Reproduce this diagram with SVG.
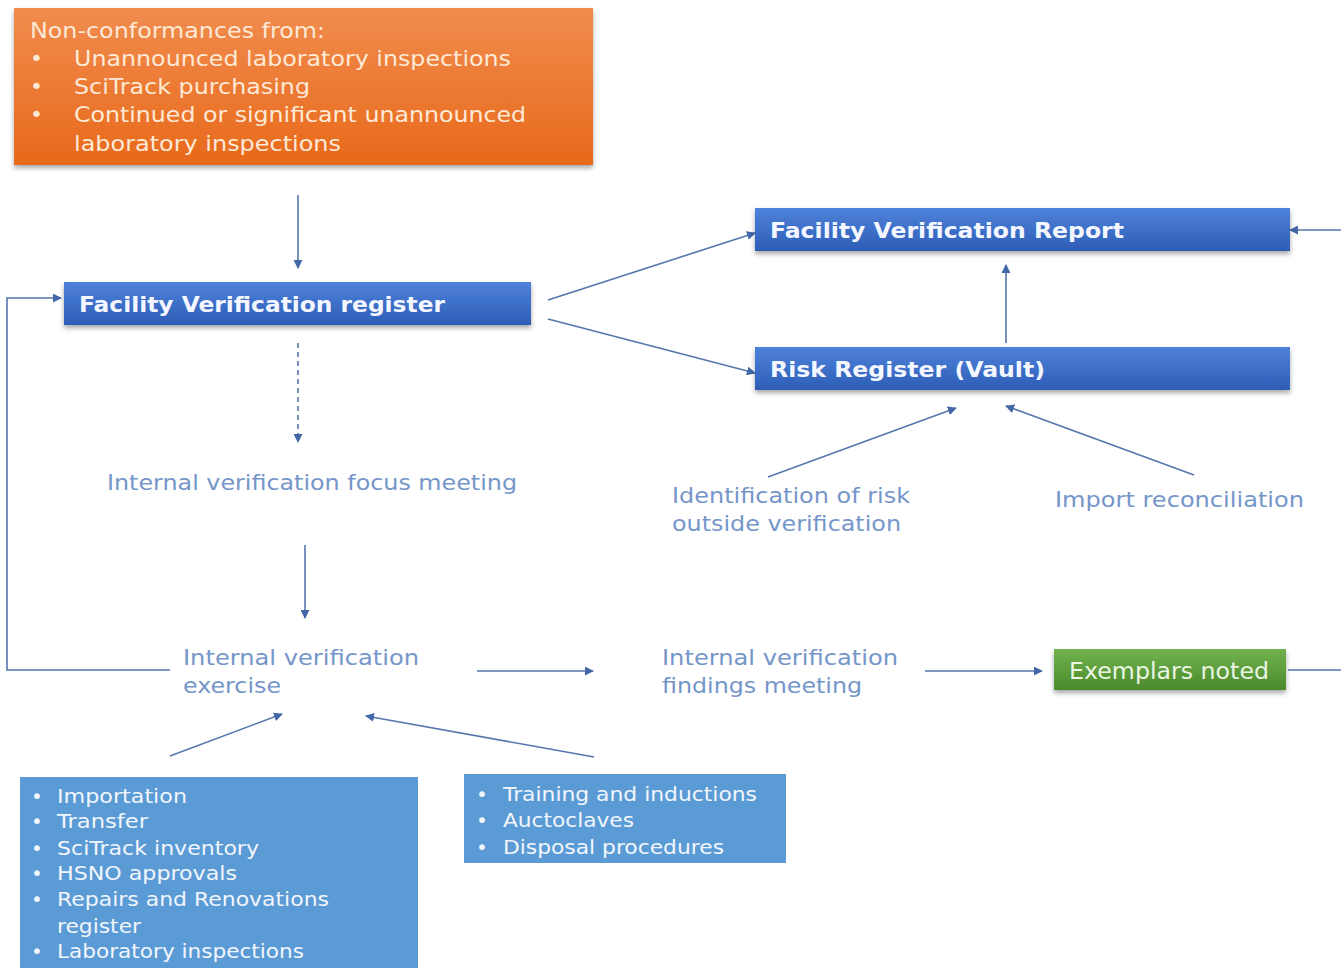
<svg xmlns="http://www.w3.org/2000/svg" width="1341" height="968" viewBox="0 0 1341 968">
<defs>
<linearGradient id="gOrange" x1="0" y1="0" x2="0" y2="1"><stop offset="0" stop-color="#F08C4E"/><stop offset="1" stop-color="#E8691B"/></linearGradient>
<linearGradient id="gBlue" x1="0" y1="0" x2="0" y2="1"><stop offset="0" stop-color="#4F82DA"/><stop offset="1" stop-color="#2D5DB6"/></linearGradient>
<linearGradient id="gGreen" x1="0" y1="0" x2="0" y2="1"><stop offset="0" stop-color="#72B24E"/><stop offset="1" stop-color="#4A8A2C"/></linearGradient>
<filter id="shadow" x="-5%" y="-20%" width="110%" height="150%"><feDropShadow dx="0" dy="3" stdDeviation="2.5" flood-color="#000" flood-opacity="0.35"/></filter>
<marker id="arr" viewBox="0 0 10 10" refX="9" refY="5" markerWidth="9" markerHeight="9" markerUnits="userSpaceOnUse" orient="auto"><path d="M0,0 L10,5 L0,10 z" fill="#4267A8"/></marker>
<style>
.conn{fill:none;stroke:#5676AC;stroke-width:1.6;marker-end:url(#arr)}
.dash{stroke-dasharray:5,4}
.hdr{font-family:"DejaVu Sans",Verdana,sans-serif;font-weight:bold;font-size:22px;fill:#F4F7FF}
.lbl{font-family:"DejaVu Sans",Verdana,sans-serif;font-size:22px;fill:#7596C9}
.org{font-family:"DejaVu Sans",Verdana,sans-serif;font-size:22px;fill:#FDE9D6}
.lst{font-family:"DejaVu Sans",Verdana,sans-serif;font-size:20px;fill:#F2F6FC}
</style>
</defs>
<rect width="1341" height="968" fill="#FFFFFF"/>
<g id="connectors">
<path class="conn" d="M298,195 L298,268"/>
<path class="conn" d="M548,300 L755,233"/>
<path class="conn" d="M548,319 L755,373"/>
<path class="conn" d="M1006,343 L1006,265"/>
<path class="conn" d="M768,477 L956,408"/>
<path class="conn" d="M1194,475 L1006,406"/>
<path class="conn dash" d="M298,343 L298,442"/>
<path class="conn" d="M305,545 L305,618"/>
<path class="conn" d="M477,671 L593,671"/>
<path class="conn" d="M925,671 L1042,671"/>
<path class="conn" d="M1288,670 L1342,670 L1342,230 L1290,230"/>
<path class="conn" d="M170,670 L7,670 L7,298 L61,298"/>
<path class="conn" d="M170,756 L282,714"/>
<path class="conn" d="M594,757 L366,716"/>
</g>
<g id="nonconformances">
<rect x="14" y="8" width="579" height="157" fill="url(#gOrange)" filter="url(#shadow)"/>
<text class="org" x="30" y="38" textLength="295" lengthAdjust="spacingAndGlyphs">Non-conformances from:</text>
<text class="org" x="30" y="66">•</text><text class="org" x="74" y="66" textLength="437" lengthAdjust="spacingAndGlyphs">Unannounced laboratory inspections</text>
<text class="org" x="30" y="94">•</text><text class="org" x="74" y="94" textLength="236" lengthAdjust="spacingAndGlyphs">SciTrack purchasing</text>
<text class="org" x="30" y="122">•</text><text class="org" x="74" y="122" textLength="452" lengthAdjust="spacingAndGlyphs">Continued or significant unannounced</text>
<text class="org" x="74" y="151" textLength="267" lengthAdjust="spacingAndGlyphs">laboratory inspections</text>
</g>
<g id="fv-register">
<rect x="64" y="282" width="467" height="43" fill="url(#gBlue)" filter="url(#shadow)"/>
<text class="hdr" x="79" y="312" textLength="366" lengthAdjust="spacingAndGlyphs">Facility  Verification  register</text>
</g>
<g id="fv-report">
<rect x="755" y="208" width="535" height="43" fill="url(#gBlue)" filter="url(#shadow)"/>
<text class="hdr" x="770" y="238" textLength="354" lengthAdjust="spacingAndGlyphs">Facility  Verification  Report</text>
</g>
<g id="risk-register">
<rect x="755" y="347" width="535" height="43" fill="url(#gBlue)" filter="url(#shadow)"/>
<text class="hdr" x="770" y="377" textLength="275" lengthAdjust="spacingAndGlyphs">Risk  Register  (Vault)</text>
</g>
<g id="focus-meeting">
<text class="lbl" x="107" y="490" textLength="410" lengthAdjust="spacingAndGlyphs">Internal verification focus meeting</text>
</g>
<g id="identification">
<text class="lbl" x="672" y="503" textLength="238" lengthAdjust="spacingAndGlyphs">Identification of risk</text>
<text class="lbl" x="672" y="531" textLength="229" lengthAdjust="spacingAndGlyphs">outside verification</text>
</g>
<g id="import-reconciliation">
<text class="lbl" x="1055" y="507" textLength="249" lengthAdjust="spacingAndGlyphs">Import reconciliation</text>
</g>
<g id="exercise">
<text class="lbl" x="183" y="665" textLength="236" lengthAdjust="spacingAndGlyphs">Internal verification</text>
<text class="lbl" x="183" y="693" textLength="98" lengthAdjust="spacingAndGlyphs">exercise</text>
</g>
<g id="findings-meeting">
<text class="lbl" x="662" y="665" textLength="236" lengthAdjust="spacingAndGlyphs">Internal verification</text>
<text class="lbl" x="662" y="693" textLength="200" lengthAdjust="spacingAndGlyphs">findings meeting</text>
</g>
<g id="exemplars">
<rect x="1054" y="649" width="232" height="41" fill="url(#gGreen)" filter="url(#shadow)"/>
<text x="1069" y="679" font-family="DejaVu Sans, Verdana, sans-serif" font-size="23" fill="#EAF6E2" textLength="200" lengthAdjust="spacingAndGlyphs">Exemplars noted</text>
</g>
<g id="list-left">
<rect x="20" y="777" width="398" height="195" fill="#5B9BD5"/>
<text class="lst" x="31" y="803">•</text><text class="lst" x="57" y="803" textLength="130" lengthAdjust="spacingAndGlyphs">Importation</text>
<text class="lst" x="31" y="828">•</text><text class="lst" x="57" y="828" textLength="91" lengthAdjust="spacingAndGlyphs">Transfer</text>
<text class="lst" x="31" y="855">•</text><text class="lst" x="57" y="855" textLength="202" lengthAdjust="spacingAndGlyphs">SciTrack inventory</text>
<text class="lst" x="31" y="880">•</text><text class="lst" x="57" y="880" textLength="180" lengthAdjust="spacingAndGlyphs">HSNO approvals</text>
<text class="lst" x="31" y="906">•</text><text class="lst" x="57" y="906" textLength="272" lengthAdjust="spacingAndGlyphs">Repairs and Renovations</text>
<text class="lst" x="57" y="933" textLength="84" lengthAdjust="spacingAndGlyphs">register</text>
<text class="lst" x="31" y="958">•</text><text class="lst" x="57" y="958" textLength="247" lengthAdjust="spacingAndGlyphs">Laboratory inspections</text>
</g>
<g id="list-right">
<rect x="464" y="774" width="322" height="89" fill="#5B9BD5"/>
<text class="lst" x="476" y="801">•</text><text class="lst" x="503" y="801" textLength="254" lengthAdjust="spacingAndGlyphs">Training  and inductions</text>
<text class="lst" x="476" y="827">•</text><text class="lst" x="503" y="827" textLength="131" lengthAdjust="spacingAndGlyphs">Auctoclaves</text>
<text class="lst" x="476" y="854">•</text><text class="lst" x="503" y="854" textLength="221" lengthAdjust="spacingAndGlyphs">Disposal procedures</text>
</g>
</svg>
